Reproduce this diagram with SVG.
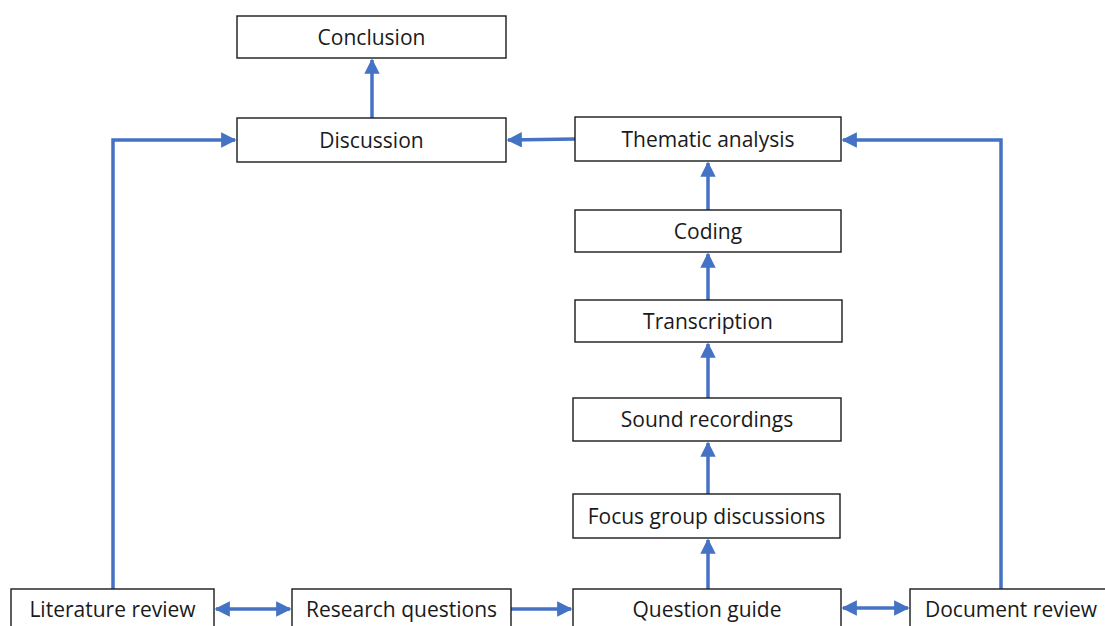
<svg xmlns="http://www.w3.org/2000/svg" width="1105" height="626" viewBox="0 0 1105 626">
  <style>
    .box { fill: #ffffff; stroke: #1a1a1a; stroke-width: 1.4; }
    .lbl { font-family: "Open Sans", "Liberation Sans", sans-serif; font-size: 21px; fill: #1a1a1a; text-anchor: middle; }
    .edge { fill: none; stroke: #4472c4; stroke-width: 3.5; }
  </style>
  <defs>
    <marker id="arr" viewBox="0 0 10 10" refX="9" refY="5" markerWidth="4.4" markerHeight="4.4" orient="auto-start-reverse" markerUnits="strokeWidth">
      <path d="M0,0 L10,5 L0,10 z" fill="#4472c4"/>
    </marker>
  </defs>
  <rect width="1105" height="626" fill="#ffffff"/>

  <g id="connectors">
    <!-- vertical chain -->
    <line class="edge" x1="372" y1="118" x2="372" y2="60" marker-end="url(#arr)"/>
    <line class="edge" x1="708" y1="210" x2="708" y2="163" marker-end="url(#arr)"/>
    <line class="edge" x1="708" y1="300" x2="708" y2="254" marker-end="url(#arr)"/>
    <line class="edge" x1="708" y1="398" x2="708" y2="344" marker-end="url(#arr)"/>
    <line class="edge" x1="708" y1="494" x2="708" y2="443" marker-end="url(#arr)"/>
    <line class="edge" x1="708" y1="589" x2="708" y2="540" marker-end="url(#arr)"/>
    <!-- horizontal -->
    <line class="edge" x1="575" y1="139" x2="508" y2="140" marker-end="url(#arr)"/>
    <polyline class="edge" points="113,589 113,140 235,140" marker-end="url(#arr)"/>
    <polyline class="edge" points="1001,589 1001,140 843,140" marker-end="url(#arr)"/>
    <!-- bottom row -->
    <line class="edge" x1="216" y1="609" x2="290" y2="609" marker-start="url(#arr)" marker-end="url(#arr)"/>
    <line class="edge" x1="511" y1="609" x2="571" y2="609" marker-end="url(#arr)"/>
    <line class="edge" x1="843" y1="608" x2="908" y2="608" marker-start="url(#arr)" marker-end="url(#arr)"/>
  </g>

  <g id="conclusion">
    <rect class="box" x="237" y="16" width="269" height="42"/>
    <text class="lbl" x="371.5" y="45">Conclusion</text>
  </g>
  <g id="discussion">
    <rect class="box" x="237" y="118" width="269" height="44"/>
    <text class="lbl" x="371.5" y="148">Discussion</text>
  </g>
  <g id="thematic-analysis">
    <rect class="box" x="575" y="117" width="266" height="44"/>
    <text class="lbl" x="708" y="147">Thematic analysis</text>
  </g>
  <g id="coding">
    <rect class="box" x="575" y="210" width="266" height="42"/>
    <text class="lbl" x="708" y="239">Coding</text>
  </g>
  <g id="transcription">
    <rect class="box" x="575" y="300" width="267" height="42"/>
    <text class="lbl" x="708" y="329">Transcription</text>
  </g>
  <g id="sound-recordings">
    <rect class="box" x="573" y="398" width="268" height="43"/>
    <text class="lbl" x="707" y="427">Sound recordings</text>
  </g>
  <g id="focus-group-discussions">
    <rect class="box" x="573" y="494" width="267" height="44"/>
    <text class="lbl" x="706.5" y="524">Focus group discussions</text>
  </g>
  <g id="question-guide">
    <rect class="box" x="573" y="589" width="268" height="50"/>
    <text class="lbl" x="707" y="617">Question guide</text>
  </g>
  <g id="literature-review">
    <rect class="box" x="11" y="589" width="203" height="50"/>
    <text class="lbl" x="112.5" y="617">Literature review</text>
  </g>
  <g id="research-questions">
    <rect class="box" x="292" y="589" width="219" height="50"/>
    <text class="lbl" x="401.5" y="617">Research questions</text>
  </g>
  <g id="document-review">
    <rect class="box" x="910" y="589" width="205" height="50"/>
    <text class="lbl" x="1011" y="617">Document review</text>
  </g>
</svg>
